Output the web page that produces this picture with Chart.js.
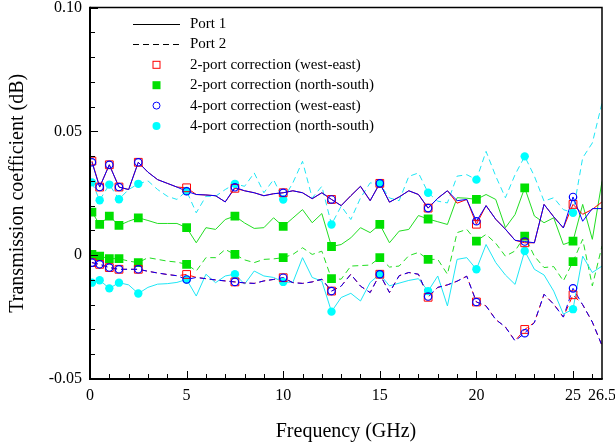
<!DOCTYPE html>
<html>
<head>
<meta charset="utf-8">
<script src="https://cdn.jsdelivr.net/npm/chart.js@4.4.1/dist/chart.umd.min.js"></script>
<style>
  body { margin: 0; background: #fff; }
  canvas { display: block; }
</style>
</head>
<body>
<canvas id="chart" width="615" height="446"></canvas>
<script>
// frequency grid of the sweeps (GHz)
const freq = [0.1, 0.5, 1, 1.5, 2, 2.5, 3, 3.5, 4, 4.5, 5, 5.5, 6, 6.5, 7, 7.5, 8, 8.5, 9, 9.5,
  10, 10.5, 11, 11.5, 12, 12.5, 13, 13.5, 14, 14.5, 15, 15.5, 16, 16.5, 17, 17.5, 18, 18.5, 19, 19.5,
  20, 20.5, 21, 21.5, 22, 22.5, 23, 23.5, 24, 24.5, 25, 25.5, 26, 26.5];
// frequencies that carry a marker
const markerFreq = [0.1, 0.5, 1, 1.5, 2.5, 5, 7.5, 10, 12.5, 15, 17.5, 20, 22.5, 25];

// 2-port correction (west-east) - red
const twoPortWE_p1 = [0.0380, 0.0275, 0.0365, 0.0275, 0.0265, 0.0375, 0.0335, 0.0305, 0.0290, 0.0275,
  0.0272, 0.0245, 0.0243, 0.0240, 0.0215, 0.0270, 0.0260, 0.0252, 0.0240, 0.0248,
  0.0252, 0.0260, 0.0252, 0.0228, 0.0252, 0.0225, 0.0200, 0.0240, 0.0278, 0.0220,
  0.0290, 0.0214, 0.0235, 0.0260, 0.0245, 0.0190, 0.0230, 0.0260, 0.0210, 0.0225,
  0.0125, 0.0200, 0.0145, 0.0105, 0.0060, 0.0050, 0.0050, 0.0205, 0.0155, 0.0110,
  0.0205, 0.0165, 0.0185, 0.0215];
const twoPortWE_p2 = [-0.0030, -0.0037, -0.0050, -0.0057, -0.0057, -0.0057, -0.0065, -0.0072, -0.0078, -0.0083,
  -0.0078, -0.0090, -0.0095, -0.0100, -0.0104, -0.0108, -0.0112, -0.0114, -0.0104, -0.0098,
  -0.0091, -0.0111, -0.0114, -0.0108, -0.0097, -0.0145, -0.0125, -0.0077, -0.0125, -0.0151,
  -0.0077, -0.0151, -0.0083, -0.0070, -0.0077, -0.0170, -0.0130, -0.0120, -0.0105, -0.0085,
  -0.0189, -0.0205, -0.0260, -0.0290, -0.0346, -0.0300, -0.0272, -0.0158, -0.0198, -0.0250,
  -0.0160, -0.0200, -0.0270, -0.0365];

// 4-port correction (west-east) - blue
const fourPortWE_p1 = [0.0375, 0.0275, 0.0365, 0.0275, 0.0265, 0.0375, 0.0335, 0.0305, 0.0290, 0.0275,
  0.0258, 0.0245, 0.0243, 0.0240, 0.0215, 0.0274, 0.0260, 0.0252, 0.0240, 0.0248,
  0.0252, 0.0260, 0.0252, 0.0228, 0.0252, 0.0225, 0.0200, 0.0240, 0.0278, 0.0220,
  0.0290, 0.0214, 0.0235, 0.0260, 0.0245, 0.0190, 0.0230, 0.0260, 0.0220, 0.0225,
  0.0137, 0.0200, 0.0145, 0.0105, 0.0060, 0.0055, 0.0050, 0.0205, 0.0155, 0.0110,
  0.0235, 0.0137, 0.0188, 0.0188];
const fourPortWE_p2 = [-0.0030, -0.0037, -0.0050, -0.0057, -0.0057, -0.0057, -0.0065, -0.0072, -0.0078, -0.0083,
  -0.0098, -0.0090, -0.0095, -0.0100, -0.0104, -0.0108, -0.0112, -0.0114, -0.0104, -0.0098,
  -0.0091, -0.0111, -0.0114, -0.0108, -0.0097, -0.0145, -0.0125, -0.0077, -0.0125, -0.0151,
  -0.0077, -0.0151, -0.0083, -0.0070, -0.0077, -0.0167, -0.0130, -0.0120, -0.0105, -0.0085,
  -0.0189, -0.0205, -0.0260, -0.0290, -0.0346, -0.0315, -0.0272, -0.0158, -0.0198, -0.0250,
  -0.0134, -0.0200, -0.0270, -0.0365];

// 2-port correction (north-south) - green
const twoPortNS_p1 = [0.0174, 0.0124, 0.0158, 0.0120, 0.0137, 0.0151, 0.0140, 0.0128, 0.0128, 0.0128,
  0.0111, 0.0050, 0.0111, 0.0104, 0.0144, 0.0158, 0.0130, 0.0108, 0.0111, 0.0151,
  0.0116, 0.0150, 0.0184, 0.0131, 0.0168, 0.0035, 0.0043, 0.0070, 0.0111, 0.0091,
  0.0124, 0.0050, 0.0097, 0.0104, 0.0160, 0.0146, 0.0135, 0.0124, 0.0232, 0.0230,
  0.0225, 0.0245, 0.0225, 0.0111, 0.0164, 0.0272, 0.0158, 0.0131, 0.0151, 0.0043,
  0.0057, 0.0205, 0.0064, 0.0298];
const twoPortNS_p2 = [0.0003, -0.0004, -0.0014, -0.0014, -0.0024, -0.0030, -0.0010, -0.0017, -0.0024, -0.0028,
  -0.0037, -0.0064, -0.0010, -0.0010, 0.0023, 0.0003, -0.0019, -0.0030, -0.0017, -0.0015,
  -0.0010, 0.0003, 0.0030, 0.0003, 0.0016, -0.0095, -0.0097, -0.0044, -0.0042, -0.0040,
  -0.0010, -0.0048, -0.0044, -0.0002, 0.0011, -0.0017, -0.0017, -0.0077, 0.0091, 0.0104,
  0.0057, 0.0084, 0.0048, -0.0004, 0.0017, 0.0077, -0.0004, -0.0050, -0.0046, -0.0104,
  -0.0026, 0.0064, -0.0124, 0.0037];

// 4-port correction (north-south) - cyan
const fourPortNS_p1 = [-0.0111, -0.0101, -0.0134, -0.0111, -0.0120, -0.0155, -0.0130, -0.0117, -0.0115, -0.0110,
  -0.0098, -0.0165, -0.0077, -0.0111, -0.0084, -0.0077, -0.0117, -0.0064, -0.0084, -0.0090,
  -0.0108, -0.0110, -0.0010, -0.0090, -0.0105, -0.0228, -0.0171, -0.0154, -0.0185, -0.0110,
  -0.0077, -0.0124, -0.0113, -0.0102, -0.0095, -0.0145, -0.0084, -0.0205, -0.0017, -0.0010,
  -0.0057, 0.0043, -0.0030, -0.0080, -0.0118, 0.0017, -0.0057, -0.0080, -0.0145, -0.0238,
  -0.0218, -0.0004, -0.0070, -0.0044];
const fourPortNS_p2 = [0.0294, 0.0222, 0.0285, 0.0226, 0.0265, 0.0288, 0.0300, 0.0265, 0.0238, 0.0225,
  0.0259, 0.0171, 0.0238, 0.0238, 0.0265, 0.0288, 0.0278, 0.0332, 0.0252, 0.0305,
  0.0225, 0.0292, 0.0379, 0.0231, 0.0278, 0.0124, 0.0198, 0.0144, 0.0231, 0.0292,
  0.0288, 0.0231, 0.0220, 0.0318, 0.0332, 0.0252, 0.0218, 0.0211, 0.0319, 0.0325,
  0.0305, 0.0419, 0.0319, 0.0232, 0.0325, 0.0399, 0.0319, 0.0218, 0.0232, 0.0184,
  0.0171, 0.0393, 0.0453, 0.0614];

const xTickLabels = [0, 5, 10, 15, 20, 25, 26.5];
const yTickLabels = [-0.05, 0, 0.05, 0.10];
const legendLabels = ["Port 1", "Port 2", "2-port correction (west-east)", "2-port correction (north-south)",
  "4-port correction (west-east)", "4-port correction (north-south)"];

const RED = "#ff0000", BLUE = "#0000ff", GREEN = "#00e000", GREEN_LINE = "#22dd22", CYAN = "#00ffff", CYAN_LINE = "#1ee6f5";
const FONT = "'Liberation Serif', 'Times New Roman', serif";

const toPoints = vals => freq.map((f, i) => ({ x: f, y: vals[i] }));
const markerPoints = (a, b) => markerFreq.flatMap(f => {
  const i = freq.indexOf(f);
  return [{ x: f, y: a[i] }, { x: f, y: b[i] }];
});

const lineSet = (vals, color, dashed) => ({
  type: "line", data: toPoints(vals), borderColor: color, borderWidth: 1,
  borderDash: dashed ? [6, 4] : [], pointRadius: 0, fill: false, tension: 0
});
const markerSet = (pts, style, radius, fillColor, color, bw) => ({
  type: "line", data: pts, showLine: false, pointStyle: style, pointRadius: radius,
  pointBackgroundColor: fillColor, pointBorderColor: color, pointBorderWidth: bw
});

// inward ticks, frame and the inset legend
const framePlugin = {
  id: "frame",
  afterDatasetsDraw(chart) {
    const { ctx, chartArea: a, scales: { x, y } } = chart;
    ctx.save();
    ctx.strokeStyle = "#000";
    ctx.lineWidth = 1;
    for (let g = 0; g <= 26; g++) {
      const px = Math.round(x.getPixelForValue(g)) + 0.5;
      const len = g % 5 === 0 ? 8 : 5;
      ctx.beginPath(); ctx.moveTo(px, a.bottom); ctx.lineTo(px, a.bottom - len); ctx.stroke();
    }
    for (let k = -5; k <= 10; k++) {
      const py = Math.round(y.getPixelForValue(k / 100)) + 0.5;
      const len = k % 5 === 0 ? 8 : 5;
      ctx.beginPath(); ctx.moveTo(a.left, py); ctx.lineTo(a.left + len, py); ctx.stroke();
    }
    ctx.lineWidth = 1.5;
    ctx.beginPath(); ctx.moveTo(a.left, a.top); ctx.lineTo(a.right, a.top); ctx.lineTo(a.right, a.bottom); ctx.stroke();
    ctx.lineWidth = 2;
    ctx.beginPath(); ctx.moveTo(a.left, a.top - 0.75); ctx.lineTo(a.left, a.bottom); ctx.lineTo(a.right + 0.75, a.bottom); ctx.stroke();

    // legend
    const lx0 = 133, lx1 = 180, mx = 156.5, tx = 190, ty0 = 24, dy = 20.4;
    ctx.font = "15px " + FONT;
    ctx.textBaseline = "middle";
    ctx.fillStyle = "#000";
    legendLabels.forEach((label, i) => {
      const yy = ty0 + i * dy;
      ctx.lineWidth = 1;
      if (i < 2) {
        ctx.strokeStyle = "#000";
        ctx.setLineDash(i === 1 ? [6, 4] : []);
        ctx.beginPath(); ctx.moveTo(lx0, Math.round(yy) + 0.5); ctx.lineTo(lx1, Math.round(yy) + 0.5); ctx.stroke();
        ctx.setLineDash([]);
      } else if (i === 2) {
        ctx.strokeStyle = RED; ctx.strokeRect(mx - 3.5, yy - 3.5, 7, 7);
      } else if (i === 3) {
        ctx.fillStyle = GREEN; ctx.fillRect(mx - 4, yy - 4, 8, 8);
      } else if (i === 4) {
        ctx.strokeStyle = BLUE; ctx.beginPath(); ctx.arc(mx, yy, 3.5, 0, Math.PI * 2); ctx.stroke();
      } else {
        ctx.fillStyle = CYAN; ctx.beginPath(); ctx.arc(mx, yy, 4, 0, Math.PI * 2); ctx.fill();
      }
      ctx.fillStyle = "#000";
      ctx.fillText(label, tx, yy);
    });
    ctx.restore();
  }
};

new Chart(document.getElementById("chart"), {
  type: "line",
  data: {
    datasets: [
      markerSet(markerPoints(fourPortWE_p1, fourPortWE_p2), "circle", 3.7, "rgba(0,0,0,0)", BLUE, 1.2),
      markerSet(markerPoints(twoPortWE_p1, twoPortWE_p2), "rect", 5.5, "rgba(0,0,0,0)", RED, 1),
      markerSet(markerPoints(fourPortNS_p1, fourPortNS_p2), "circle", 4.2, CYAN, CYAN, 0),
      markerSet(markerPoints(twoPortNS_p1, twoPortNS_p2), "rect", 6.2, GREEN, GREEN, 0),
      lineSet(fourPortWE_p1, BLUE, false),
      lineSet(fourPortWE_p2, BLUE, true),
      lineSet(twoPortWE_p1, RED, false),
      lineSet(twoPortWE_p2, RED, true),
      lineSet(fourPortNS_p1, CYAN_LINE, false),
      lineSet(fourPortNS_p2, CYAN_LINE, true),
      lineSet(twoPortNS_p1, GREEN_LINE, false),
      lineSet(twoPortNS_p2, GREEN_LINE, true)
    ]
  },
  options: {
    responsive: false,
    animation: false,
    layout: { padding: { top: 7.5, right: 13, left: 0, bottom: 0 } },
    plugins: { legend: { display: false }, tooltip: { enabled: false } },
    scales: {
      x: {
        type: "linear", min: 0, max: 26.5,
        grid: { display: false, drawTicks: false },
        border: { display: false },
        afterBuildTicks: s => { s.ticks = xTickLabels.map(v => ({ value: v })); },
        afterFit: s => { s.height = 67; s.paddingLeft = 0; s.paddingRight = 0; },
        ticks: { autoSkip: false, maxRotation: 0, padding: 7, color: "#000", font: { family: FONT, size: 16 },
          callback: v => String(v) },
        title: { display: true, text: "Frequency (GHz)", color: "#000", font: { family: FONT, size: 20 },
          padding: { top: 0, bottom: 2 } }
      },
      y: {
        type: "linear", min: -0.05, max: 0.10,
        grid: { display: false, drawTicks: false },
        border: { display: false },
        afterBuildTicks: s => { s.ticks = yTickLabels.map(v => ({ value: v })); },
        afterFit: s => { s.width = 90; s.paddingTop = 0; s.paddingBottom = 0; },
        ticks: { padding: 8, color: "#000", font: { family: FONT, size: 16 },
          callback: v => v === 0 ? "0" : v.toFixed(2) },
        title: { display: true, text: "Transmission coefficient (dB)", color: "#000", font: { family: FONT, size: 20 },
          padding: { top: 5.5, bottom: 0 } }
      }
    }
  },
  plugins: [framePlugin]
});
</script>
</body>
</html>
